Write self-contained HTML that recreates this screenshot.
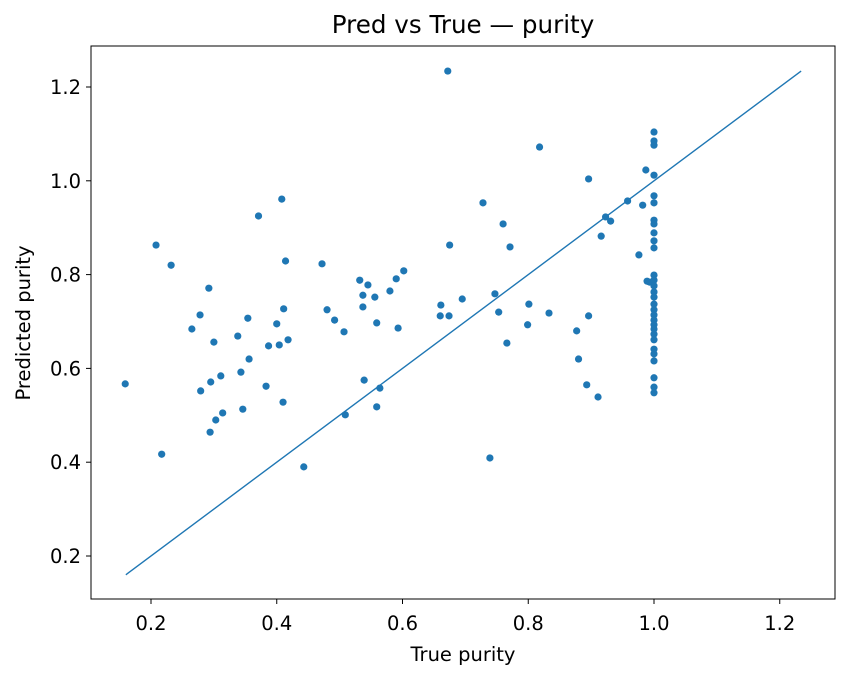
<!DOCTYPE html>
<html><head><meta charset="utf-8"><style>
body{margin:0;background:#fff;}
svg{display:block;font-family:"DejaVu Sans","Liberation Sans",sans-serif;}
</style></head><body>
<svg id="chart" width="850" height="678">
<text x="463" y="33" font-size="24.6" text-anchor="middle">Pred vs True — purity</text>
<text x="463" y="661" font-size="19.5" text-anchor="middle">True purity</text>
<text x="30" y="323" font-size="19.5" text-anchor="middle" transform="rotate(-90 30 323)">Predicted purity</text>
<g id="marks"></g>
<rect x="91" y="46" width="744" height="553" fill="none" stroke="#000" stroke-width="1"/>
</svg>
<script>
const xTicks=[0.2,0.4,0.6,0.8,1.0,1.2];
const yTicks=[0.2,0.4,0.6,0.8,1.0,1.2];
const trueVals=[0.159,0.208,0.217,0.232,0.265,0.278,0.279,0.292,0.294,0.295,0.300,0.303,0.311,0.314,0.338,0.343,0.346,0.354,0.356,0.371,0.383,0.387,0.400,0.404,0.408,0.410,0.411,0.414,0.418,0.443,0.472,0.480,0.492,0.507,0.509,0.532,0.537,0.537,0.539,0.545,0.556,0.559,0.559,0.564,0.580,0.590,0.593,0.602,0.661,0.660,0.672,0.674,0.675,0.695,0.728,0.739,0.747,0.753,0.760,0.766,0.771,0.799,0.801,0.818,0.833,0.877,0.880,0.893,0.896,0.896,0.911,0.916,0.923,0.931,0.958,0.976,0.982,0.987,0.989,0.993,
1,1,1,1,1,1,1,1,1,1,1,1,1,1,1,1,1,1,1,1,1,1,1,1,1,1,1,1,1,1];
const predVals=[0.567,0.863,0.417,0.820,0.684,0.714,0.552,0.771,0.464,0.571,0.656,0.490,0.584,0.505,0.669,0.592,0.513,0.707,0.620,0.925,0.562,0.648,0.695,0.650,0.961,0.528,0.727,0.829,0.661,0.390,0.823,0.725,0.703,0.678,0.501,0.788,0.756,0.731,0.575,0.778,0.752,0.697,0.518,0.558,0.765,0.791,0.686,0.808,0.735,0.712,1.234,0.712,0.863,0.748,0.953,0.409,0.759,0.720,0.908,0.654,0.859,0.693,0.737,1.072,0.718,0.680,0.620,0.565,1.004,0.712,0.539,0.882,0.923,0.914,0.957,0.842,0.948,1.023,0.786,0.784,
1.104,1.085,1.076,1.012,0.968,0.953,0.916,0.908,0.889,0.872,0.857,0.799,0.788,0.776,0.763,0.752,0.737,0.725,0.714,0.703,0.693,0.684,0.673,0.661,0.641,0.631,0.616,0.580,0.560,0.548];
const lineStart=0.16, lineEnd=1.234;
const NS="http://www.w3.org/2000/svg";
const xs=v=>25.25+v*628.75;
const ys=v=>556-(v-0.2)*469;
const svg=document.getElementById('chart');
const g=document.getElementById('marks');
function mk(tag,attrs,parent){const e=document.createElementNS(NS,tag);for(const k in attrs)e.setAttribute(k,attrs[k]);parent.appendChild(e);return e;}
xTicks.forEach(t=>{
  const l=mk('line',{x1:xs(t),x2:xs(t),y1:599,y2:604,stroke:'#000'},svg);
  
  
  const tx=mk('text',{x:xs(t),y:630,'font-size':19.5,'text-anchor':'middle'},svg);
  tx.textContent=t.toFixed(1);
  
  
});
yTicks.forEach(t=>{
  const l=mk('line',{x1:86,x2:91,y1:ys(t),y2:ys(t),stroke:'#000'},svg);
  
  
  const tx=mk('text',{x:81,y:ys(t)+7,'font-size':19.5,'text-anchor':'end'},svg);
  tx.textContent=t.toFixed(1);
  
  
});
trueVals.forEach((v,i)=>{
  const c=mk('circle',{cx:xs(v),cy:ys(predVals[i]),r:3.6,fill:'#1f77b4'},g);
  
  
});
const ln=mk('line',{x1:xs(lineStart),y1:ys(lineStart),x2:xs(lineEnd),y2:ys(lineEnd),stroke:'#1f77b4','stroke-width':1.4},g);


</script>
</body></html>
